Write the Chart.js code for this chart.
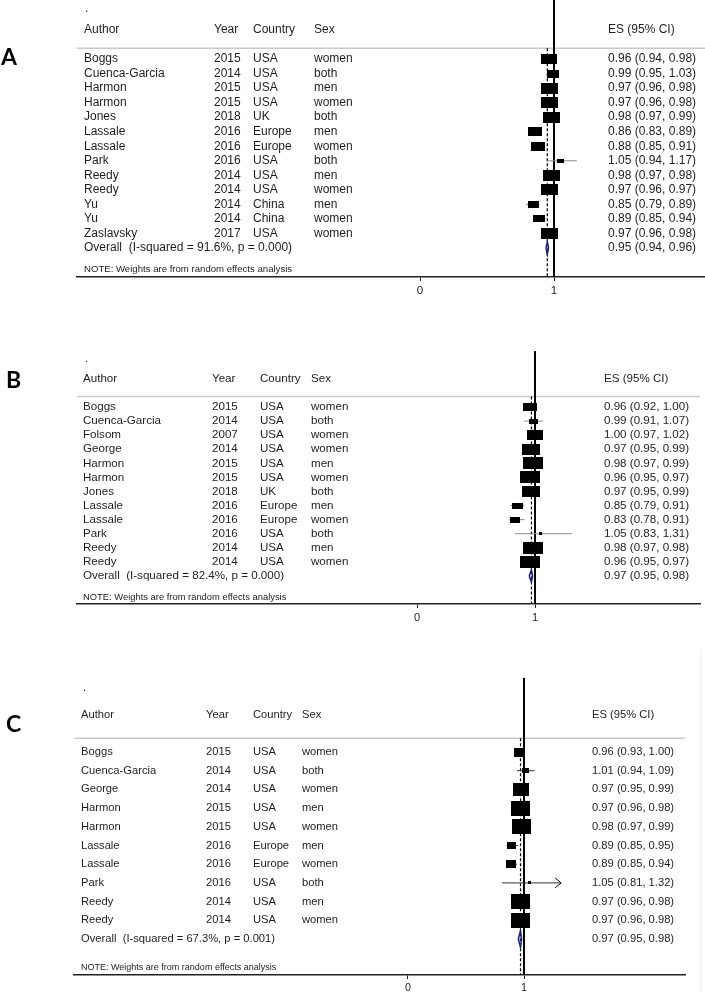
<!DOCTYPE html>
<html><head><meta charset="utf-8">
<script src="https://cdn.jsdelivr.net/npm/chart.js@4.4.1/dist/chart.umd.min.js"></script>
<style>
html,body{margin:0;padding:0;background:#fff;width:705px;height:992px;overflow:hidden}
.p{position:absolute;left:0;width:705px}
canvas{display:block}
</style></head><body>
<div class="p" style="top:0"><canvas id="cA" width="705" height="320"></canvas></div>
<div class="p" style="top:320px"><canvas id="cB" width="705" height="320"></canvas></div>
<div class="p" style="top:640px"><canvas id="cC" width="705" height="352"></canvas></div>
<script>
// ---------- Panel A data ----------
const authorsA = ['Boggs','Cuenca-Garcia','Harmon','Harmon','Jones','Lassale','Lassale','Park','Reedy','Reedy','Yu','Yu','Zaslavsky'];
const yearsA = [2015,2014,2015,2015,2018,2016,2016,2016,2014,2014,2014,2014,2017];
const countriesA = ['USA','USA','USA','USA','UK','Europe','Europe','USA','USA','USA','China','China','USA'];
const sexA = ['women','both','men','women','both','men','women','both','men','women','men','women','women'];
const esA = [0.96,0.99,0.97,0.97,0.98,0.86,0.88,1.05,0.98,0.97,0.85,0.89,0.97];
const loA = [0.94,0.95,0.96,0.96,0.97,0.83,0.85,0.94,0.97,0.96,0.79,0.85,0.96];
const hiA = [0.98,1.03,0.98,0.98,0.99,0.89,0.91,1.17,0.98,0.97,0.89,0.94,0.98];
const weightsA = [8.9,5.2,10.1,10.1,10.1,7.1,7.1,1.6,10.4,10.4,4.1,4.9,10.1];
const overallA = [0.95,0.94,0.96];
const hetA = ['91.6%','0.000'];

// ---------- Panel B data ----------
const authorsB = ['Boggs','Cuenca-Garcia','Folsom','George','Harmon','Harmon','Jones','Lassale','Lassale','Park','Reedy','Reedy'];
const yearsB = [2015,2014,2007,2014,2015,2015,2018,2016,2016,2016,2014,2014];
const countriesB = ['USA','USA','USA','USA','USA','USA','UK','Europe','Europe','USA','USA','USA'];
const sexB = ['women','both','women','women','men','women','both','men','women','both','men','women'];
const esB = [0.96,0.99,1.00,0.97,0.98,0.96,0.97,0.85,0.83,1.05,0.98,0.96];
const loB = [0.92,0.91,0.97,0.95,0.97,0.95,0.95,0.79,0.78,0.83,0.97,0.95];
const hiB = [1.00,1.07,1.02,0.99,0.99,0.97,0.99,0.91,0.91,1.31,0.98,0.97];
const weightsB = [6.4,2.6,9.1,10.7,13.2,13.2,10.7,3.9,3.4,0.3,13.2,13.2];
const overallB = [0.97,0.95,0.98];
const hetB = ['82.4%','0.000'];

// ---------- Panel C data ----------
const authorsC = ['Boggs','Cuenca-Garcia','George','Harmon','Harmon','Lassale','Lassale','Park','Reedy','Reedy'];
const yearsC = [2015,2014,2014,2015,2015,2016,2016,2016,2014,2014];
const countriesC = ['USA','USA','USA','USA','USA','Europe','Europe','USA','USA','USA'];
const sexC = ['women','both','women','men','women','men','women','both','men','women'];
const esC = [0.96,1.01,0.97,0.97,0.98,0.89,0.89,1.05,0.97,0.97];
const loC = [0.93,0.94,0.95,0.96,0.97,0.85,0.85,0.81,0.96,0.96];
const hiC = [1.00,1.09,0.99,0.98,0.99,0.95,0.94,1.32,0.98,0.98];
const weightsC = [6.3,2.2,12.2,17.4,17.9,4.0,5.0,0.3,17.4,17.4];
const overallC = [0.97,0.95,0.98];
const hetC = ['67.3%','0.001'];
const arrowRowsC = [7];

const xTicks = [0, 1];
const headers = ['Author','Year','Country','Sex'];
const esHeader = 'ES (95% CI)';
const noteText = 'NOTE: Weights are from random effects analysis';

// ---------- layout ----------
const FONT = '"Liberation Sans", Arial, Helvetica, sans-serif';
const TXT = '#1e1e1e';

function boxImg(w, h) {
  const c = document.createElement('canvas');
  c.width = Math.max(2, Math.round(w));
  c.height = Math.max(2, Math.round(h));
  const g = c.getContext('2d');
  g.fillStyle = '#000';
  g.fillRect(0, 0, c.width, c.height);
  return c;
}

function makePanel(id, L, d) {
  const n = d.authors.length;
  const ppu = L.onePx - L.zeroPx;
  const xMin = (L.left - L.zeroPx) / ppu, xMax = (L.right - L.zeroPx) / ppu;
  const yMin = 1 - (L.row1 - L.areaTop) / L.step, yMax = 1 + (L.areaBottom - L.row1) / L.step;
  const ovRow = n + 1, sepRow = 0.26, headRow = -1, dotRow = -2.45, noteRow = n + 2.5;
  const [ovEs, ovLo, ovHi] = d.overall;
  const dh = 0.45;

  const datasets = [];
  datasets.push({
    label: 'studies',
    data: d.es.map((v, i) => ({x: v, y: i + 1})),
    pointStyle: d.weights.map(w => {
      const bw = Math.max(3, L.k * Math.sqrt(w));
      return boxImg(bw, Math.max(3, bw * L.aspect));
    }),
    pointRadius: 3, showLine: false, order: 0
  });
  datasets.push({
    label: 'overall',
    data: [{x: ovLo, y: ovRow}, {x: ovEs, y: ovRow - dh}, {x: ovHi, y: ovRow}, {x: ovEs, y: ovRow + dh}, {x: ovLo, y: ovRow}],
    showLine: true, pointRadius: 0, borderColor: '#1b2378', borderWidth: 1.4,
    backgroundColor: 'rgba(60,70,170,0.35)', fill: 'shape', tension: 0, order: 1
  });
  d.lo.forEach((lo, i) => {
    datasets.push({
      label: 'ci' + i,
      data: [{x: lo, y: i + 1}, {x: d.hi[i], y: i + 1}],
      showLine: true, pointRadius: 0, borderColor: L.ciColor, borderWidth: 1, order: 2
    });
  });
  datasets.push({
    label: 'null', data: [{x: 1, y: yMin}, {x: 1, y: yMax}],
    showLine: true, pointRadius: 0, borderColor: '#000', borderWidth: 2, order: 3
  });
  datasets.push({
    label: 'ovline', data: [{x: ovEs, y: sepRow}, {x: ovEs, y: yMax}],
    showLine: true, pointRadius: 0, borderColor: '#000', borderWidth: 1.2, borderDash: [3, 2], order: 3
  });

  const textPlugin = {
    id: 'forestText' + id,
    beforeDatasetsDraw(chart) {
      const ctx = chart.ctx, y = chart.scales.y;
      ctx.save();
      ctx.strokeStyle = '#c9c9c9';
      ctx.lineWidth = 1.5;
      const sy = y.getPixelForValue(sepRow);
      ctx.beginPath(); ctx.moveTo(L.left, sy); ctx.lineTo(L.right, sy); ctx.stroke();
      if (L.rightRule) {
        ctx.strokeStyle = '#ececec'; ctx.lineWidth = 1;
        ctx.beginPath(); ctx.moveTo(L.rightRule, 10); ctx.lineTo(L.rightRule, L.height); ctx.stroke();
      }
      ctx.restore();
    },
    afterDraw(chart) {
      const ctx = chart.ctx, y = chart.scales.y, x = chart.scales.x;
      ctx.save();
      ctx.fillStyle = TXT;
      ctx.textBaseline = 'middle';
      ctx.textAlign = 'left';
      ctx.font = L.font + 'px ' + FONT;
      ctx.fillText('.', L.dotX, y.getPixelForValue(dotRow));
      const hy = y.getPixelForValue(headRow);
      headers.forEach((h, j) => ctx.fillText(h, L.cols[j], hy));
      ctx.fillText(esHeader, L.esX, hy);
      for (let i = 0; i < n; i++) {
        const ry = y.getPixelForValue(i + 1);
        ctx.fillText(d.authors[i], L.cols[0], ry);
        ctx.fillText(String(d.years[i]), L.cols[1], ry);
        ctx.fillText(d.countries[i], L.cols[2], ry);
        ctx.fillText(d.sexes[i], L.cols[3], ry);
        ctx.fillText(d.es[i].toFixed(2) + ' (' + d.lo[i].toFixed(2) + ', ' + d.hi[i].toFixed(2) + ')', L.esX, ry);
      }
      const oy = y.getPixelForValue(ovRow);
      ctx.fillText('Overall  (I-squared = ' + d.het[0] + ', p = ' + d.het[1] + ')', L.cols[0], oy);
      ctx.fillText(ovEs.toFixed(2) + ' (' + ovLo.toFixed(2) + ', ' + ovHi.toFixed(2) + ')', L.esX, oy);
      ctx.font = L.noteFont + 'px ' + FONT;
      ctx.fillText(noteText, L.cols[0], y.getPixelForValue(noteRow));
      // arrows for truncated CIs
      ctx.strokeStyle = '#000'; ctx.lineWidth = 1;
      (d.arrows || []).forEach(i => {
        const px = x.getPixelForValue(d.hi[i]), py = y.getPixelForValue(i + 1);
        ctx.beginPath(); ctx.moveTo(px - 6, py - 5); ctx.lineTo(px, py); ctx.lineTo(px - 6, py + 5); ctx.stroke();
      });
      // panel letter
      ctx.fillStyle = '#000';
      ctx.textBaseline = 'alphabetic';
      ctx.font = 'bold 23px Lato, "Open Sans", sans-serif';
      ctx.fillText(L.letter, L.letterX, L.letterBase);
      ctx.restore();
    }
  };

  return new Chart(document.getElementById(id), {
    type: 'scatter',
    data: {datasets},
    options: {
      responsive: false, animation: false, events: [],
      devicePixelRatio: 1,
      layout: {autoPadding: false, padding: {left: L.left, right: 705 - L.right, top: L.areaTop, bottom: 0}},
      plugins: {legend: {display: false}, tooltip: {enabled: false}},
      scales: {
        x: {
          type: 'linear', min: xMin, max: xMax,
          afterBuildTicks: s => { s.ticks = xTicks.map(v => ({value: v})); },
          afterFit: s => { s.height = L.height - L.areaBottom; s.paddingLeft = 0; s.paddingRight = 0; },
          grid: {display: true, drawOnChartArea: false, drawTicks: true, tickLength: 4, color: '#222'},
          border: {display: true, color: '#222', width: 1.5},
          ticks: {color: TXT, font: {family: FONT, size: L.font - 0.5}, padding: 3, callback: v => String(v), maxRotation: 0}
        },
        y: {type: 'linear', display: false, reverse: true, min: yMin, max: yMax}
      }
    },
    plugins: [textPlugin]
  });
}

makePanel('cA', {
  height: 320, areaTop: 0, areaBottom: 277, left: 77, right: 705, zeroPx: 420, onePx: 554,
  row1: 59, step: 14.54, cols: [84, 214, 253, 314], esX: 608, dotX: 85, font: 12, noteFont: 9.6,
  k: 5.27, aspect: 0.63, ciColor: '#8c8c8c', letter: 'A', letterX: 1, letterBase: 65
}, {authors: authorsA, years: yearsA, countries: countriesA, sexes: sexA, es: esA, lo: loA, hi: hiA,
    weights: weightsA, overall: overallA, het: hetA});

makePanel('cB', {
  height: 320, areaTop: 31, areaBottom: 284, left: 77, right: 700, zeroPx: 417, onePx: 535,
  row1: 87, step: 14.08, cols: [83, 212, 260, 311], esX: 604, dotX: 85, font: 11.6, noteFont: 9.4,
  k: 5.42, aspect: 0.6, ciColor: '#8c8c8c', letter: 'B', letterX: 6, letterBase: 68
}, {authors: authorsB, years: yearsB, countries: countriesB, sexes: sexB, es: esB, lo: loB, hi: hiB,
    weights: weightsB, overall: overallB, het: hetB});

makePanel('cC', {
  height: 352, areaTop: 38, areaBottom: 335, left: 74, right: 685, zeroPx: 408, onePx: 524,
  row1: 112, step: 18.7, cols: [81, 206, 253, 302], esX: 592, dotX: 83, font: 11.2, noteFont: 9.0,
  k: 4.48, aspect: 0.8, ciColor: '#333', letter: 'C', letterX: 6, letterBase: 92, rightRule: 701
}, {authors: authorsC, years: yearsC, countries: countriesC, sexes: sexC, es: esC, lo: loC, hi: hiC,
    weights: weightsC, overall: overallC, het: hetC, arrows: arrowRowsC});
</script>
</body></html>
